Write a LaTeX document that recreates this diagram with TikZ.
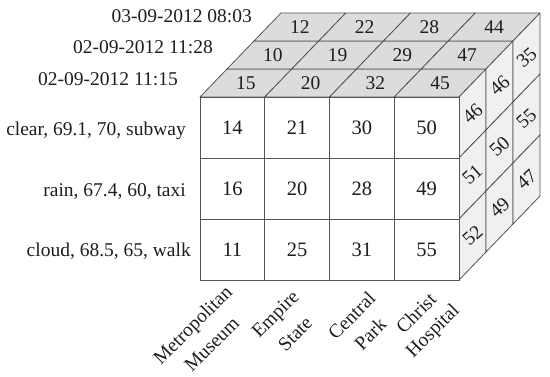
\documentclass[tikz,border=0pt]{standalone}
\usepackage{fontspec}
\setmainfont{Liberation Serif}
\definecolor{edgec}{HTML}{555555}
\definecolor{topc}{HTML}{DCDCDC}
\definecolor{sidec}{HTML}{F0F0F0}
\definecolor{txtc}{HTML}{1E1E1E}
\begin{document}
\begin{tikzpicture}[x=1pt,y=-1pt,
  face/.style={draw=edgec, line width=0.8pt, line join=round},
  lab/.style={font=\fontsize{19.5}{26}\selectfont, text=txtc, inner sep=0pt},
  num/.style={font=\fontsize{20.5}{24}\selectfont, text=txtc, inner sep=0pt},
  collab/.style={lab, rotate=45, anchor=east},
]
\useasboundingbox (0,0) rectangle (550,376);
\def\W{64.75}\def\H{61}\def\DX{27}\def\DY{-28}
% top face
\foreach \vals [count=\k from 0] in {{15,20,32,45},{10,19,29,47},{12,22,28,44}}{
  \foreach \v [count=\j from 0] in \vals {
    \pgfmathsetmacro{\xa}{200+\j*\W+\k*\DX}
    \pgfmathsetmacro{\ya}{97+\k*\DY}
    \draw[face, fill=topc] (\xa,\ya) -- ++(\W,0) -- ++(\DX,\DY) -- ++(-\W,0) -- cycle;
    \node[lab] (t-\k-\j) at (\xa+\W/2+\DX/2, \ya+\DY/2) {\v};
  }
}
% right face
\foreach \vals [count=\k from 0] in {{46,51,52},{46,50,49},{35,55,47}}{
  \foreach \v [count=\i from 0] in \vals {
    \pgfmathsetmacro{\xa}{459+\k*\DX}
    \pgfmathsetmacro{\ya}{97+\i*\H+\k*\DY}
    \draw[face, fill=sidec] (\xa,\ya) -- ++(\DX,\DY) -- ++(0,\H) -- ++(-\DX,-\DY) -- cycle;
    \node[lab, rotate=42] (r-\k-\i) at (\xa+\DX/2, \ya+\H/2+\DY/2) {\v};
  }
}
% front face
\foreach \vals [count=\i from 0] in {{14,21,30,50},{16,20,28,49},{11,25,31,55}}{
  \foreach \v [count=\j from 0] in \vals {
    \pgfmathsetmacro{\xa}{200+\j*\W}
    \pgfmathsetmacro{\ya}{97+\i*\H}
    \draw[face, fill=white] (\xa,\ya) rectangle ++(\W,\H);
    \node[num] (f-\i-\j) at (\xa+\W/2, \ya+\H/2) {\v};
  }
}
% row labels
\node[lab, anchor=base east] (row0) at (186,135) {clear, 69.1, 70, subway};
\node[lab, anchor=base east] (row1) at (186,196) {rain, 67.4, 60, taxi};
\node[lab, anchor=base east] (row2) at (191,256) {cloud, 68.5, 65, walk};
% date labels
\node[lab, anchor=base east] (d2) at (252,22) {03-09-2012 08:03};
\node[lab, anchor=base east] (d1) at (213,53) {02-09-2012 11:28};
\node[lab, anchor=base east] (d0) at (178,85) {02-09-2012 11:15};
% column labels
\node[collab] (c0a) at (230,290) {Metropolitan};
\node[collab] (c0b) at (236,320) {Museum};
\node[collab] (c1a) at (297,295) {Empire};
\node[collab] (c1b) at (309,320) {State};
\node[collab] (c2a) at (372,295) {Central};
\node[collab] (c2b) at (383,321) {Park};
\node[collab] (c3a) at (433,296) {Christ};
\node[collab] (c3b) at (457,308) {Hospital};
\end{tikzpicture}
\end{document}
